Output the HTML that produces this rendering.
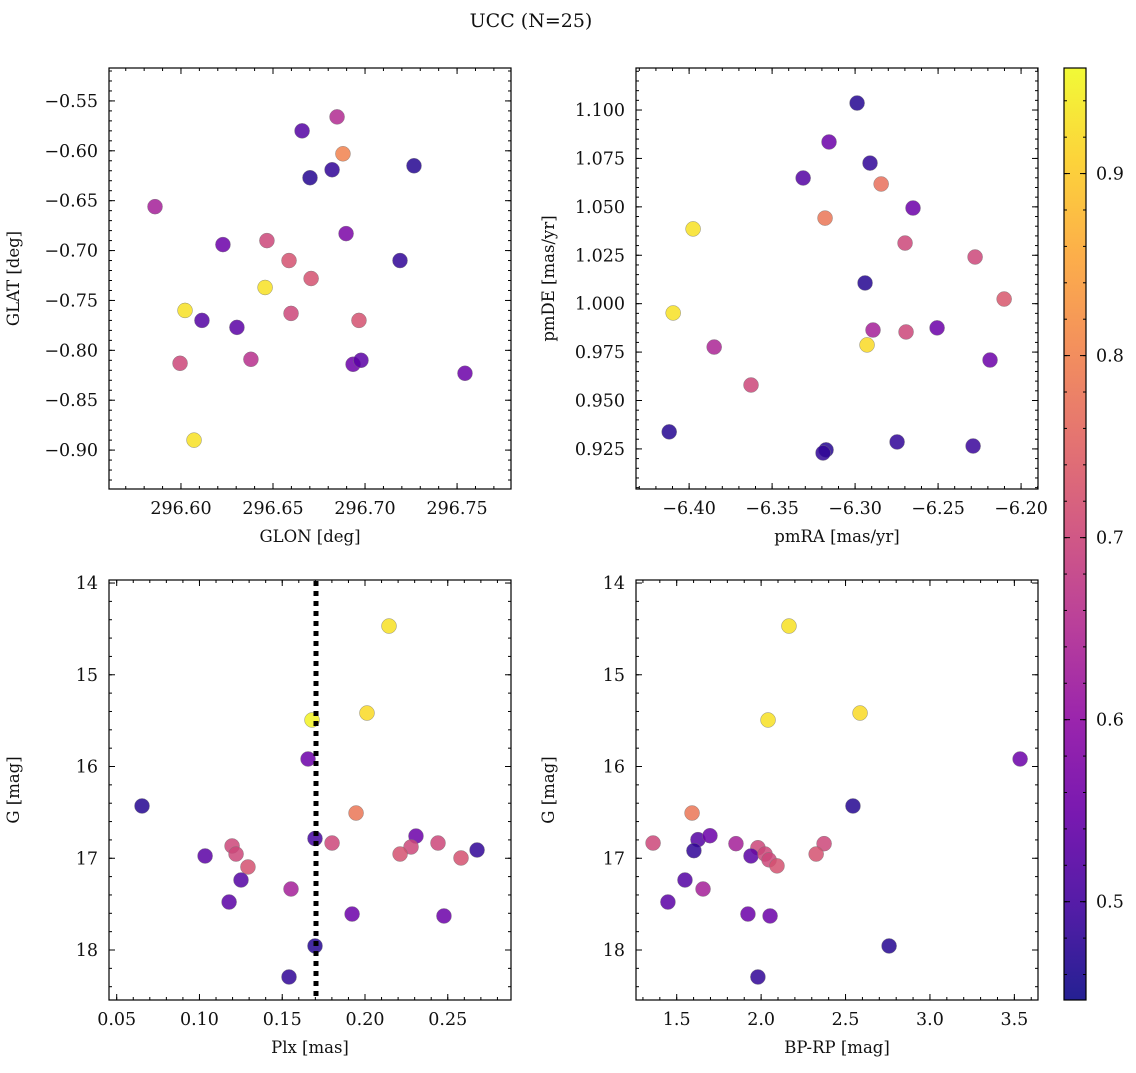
<!DOCTYPE html>
<html><head><meta charset="utf-8"><style>
html,body{margin:0;padding:0;background:#fff}
text{font-family:"DejaVu Serif","Liberation Serif",serif;fill:#111}
</style></head><body>
<svg id="fig" width="1136" height="1068" xmlns="http://www.w3.org/2000/svg">
<text x="531" y="27" font-size="19" text-anchor="middle">UCC (N=25)</text>
</svg>
<script>
// ---- data ----
const glon=[296.6658,296.6848,296.6880,296.6701,296.6821,296.7266,296.5859,296.6228,296.6467,296.6587,296.6897,296.6022,296.6114,296.6304,296.6457,296.6707,296.6598,296.6967,296.7190,296.6380,296.5995,296.6935,296.6978,296.7543,296.6071];
const glat=[-0.580,-0.566,-0.603,-0.627,-0.619,-0.615,-0.656,-0.694,-0.690,-0.710,-0.683,-0.760,-0.770,-0.777,-0.737,-0.728,-0.763,-0.770,-0.710,-0.809,-0.813,-0.814,-0.810,-0.823,-0.890];
const c1=[0.52,0.65,0.80,0.47,0.48,0.47,0.63,0.55,0.70,0.72,0.57,0.93,0.52,0.53,0.93,0.72,0.70,0.72,0.48,0.66,0.70,0.55,0.53,0.55,0.93];
const pmra=[-6.2988,-6.3157,-6.3313,-6.2910,-6.2843,-6.3181,-6.2651,-6.3976,-6.2699,-6.2277,-6.2940,-6.2102,-6.4096,-6.2506,-6.2892,-6.2693,-6.2928,-6.2187,-6.3849,-6.3627,-6.4120,-6.3175,-6.3193,-6.2747,-6.2289];
const pmde=[1.1036,1.0835,1.0649,1.0726,1.0618,1.0442,1.0494,1.0386,1.0313,1.0241,1.0107,1.0024,0.9952,0.9875,0.9864,0.9854,0.9787,0.9709,0.9776,0.9580,0.9338,0.9245,0.9229,0.9286,0.9265];
const c2=[0.47,0.55,0.52,0.48,0.77,0.78,0.55,0.93,0.70,0.70,0.47,0.73,0.93,0.55,0.63,0.70,0.92,0.55,0.64,0.70,0.47,0.47,0.48,0.48,0.49];
const plx=[0.2145,0.1680,0.2012,0.1656,0.0653,0.1034,0.1197,0.1221,0.1293,0.1251,0.1179,0.1553,0.1946,0.1698,0.1801,0.2308,0.2278,0.2212,0.2441,0.2580,0.2677,0.1922,0.2477,0.1698,0.1541];
const gmag3=[14.469,15.493,15.417,15.918,16.430,16.975,16.866,16.954,17.095,17.237,17.477,17.335,16.507,16.785,16.834,16.758,16.877,16.954,16.834,16.997,16.910,17.608,17.629,17.956,18.294];
const c3=[0.93,0.95,0.92,0.55,0.47,0.53,0.70,0.70,0.72,0.52,0.53,0.63,0.78,0.50,0.70,0.55,0.70,0.72,0.70,0.72,0.48,0.55,0.55,0.47,0.48];
const plxCut=0.1704;
const bprp=[2.165,2.041,2.586,3.534,2.544,1.591,1.360,1.626,1.602,1.697,1.851,1.981,1.940,2.023,2.047,2.094,2.373,2.326,1.549,1.656,1.448,1.922,2.053,2.758,1.981];
const gmag4=[14.469,15.493,15.417,15.918,16.430,16.507,16.834,16.797,16.917,16.754,16.841,16.885,16.975,16.954,17.017,17.083,16.841,16.954,17.237,17.335,17.477,17.608,17.629,17.956,18.294];
const c4=[0.93,0.93,0.92,0.55,0.47,0.78,0.70,0.52,0.48,0.55,0.63,0.70,0.53,0.70,0.70,0.72,0.70,0.72,0.52,0.63,0.53,0.55,0.55,0.47,0.48];
const cbTicks=[0.5,0.6,0.7,0.8,0.9];
const vmin=0.446,vmax=0.958;

const NS="http://www.w3.org/2000/svg";
const svg=document.getElementById('fig');
function mk(tag,at,parent){const e=document.createElementNS(NS,tag);for(const k in at)e.setAttribute(k,at[k]);(parent||svg).appendChild(e);return e;}
const stops=["#0d0887","#41049d","#6a00a8","#8f0da4","#b12a90","#cc4778","#e16462","#f2844b","#fca636","#fcce25","#f0f921"];
function hex(h){return [1,3,5].map(i=>parseInt(h.substr(i,2),16));}
function plasma(t){t=Math.max(0,Math.min(1,t));const f=t*10,i=Math.min(9,Math.floor(f)),r=f-i;const a=hex(stops[i]),b=hex(stops[i+1]);return 'rgb('+a.map((v,k)=>Math.round(v+(b[k]-v)*r)).join(',')+')';}
function cmap(v){return plasma((v-vmin)/(vmax-vmin));}

function panel(name,box,xr,yr,xt,yt,xminor,yminor,xfmt,yfmt,xlabel,ylabel,xs,ys,cs,invertY){
  const [L,T,R,B]=box;
  const X=v=>L+(v-xr[0])/(xr[1]-xr[0])*(R-L);
  const Y=invertY?(v=>T+(v-yr[0])/(yr[1]-yr[0])*(B-T)):(v=>B-(v-yr[0])/(yr[1]-yr[0])*(B-T));
  const g=mk('g',{});
  
  
  for(let i=0;i<xs.length;i++){
    const p=mk('circle',{cx:X(xs[i]),cy:Y(ys[i]),r:7.5,fill:cmap(cs[i]),'fill-opacity':0.85,stroke:'#777','stroke-width':0.4},g);
    
    
  }
  const ax=mk('g',{},g);
  
  
  mk('rect',{x:L,y:T,width:R-L,height:B-T,fill:'none',stroke:'#000','stroke-width':1.2},ax);
  const eps=1e-9;
  for(let k=Math.ceil(xr[0]/xminor-eps);k*xminor<=xr[1]+eps;k++){const x=X(k*xminor);mk('line',{x1:x,x2:x,y1:B,y2:B-3,stroke:'#000'},ax);mk('line',{x1:x,x2:x,y1:T,y2:T+3,stroke:'#000'},ax);}
  for(let k=Math.ceil(yr[0]/yminor-eps);k*yminor<=yr[1]+eps;k++){const y=Y(k*yminor);mk('line',{x1:L,x2:L+3,y1:y,y2:y,stroke:'#000'},ax);mk('line',{x1:R,x2:R-3,y1:y,y2:y,stroke:'#000'},ax);}
  xt.forEach(v=>{const x=X(v);mk('line',{x1:x,x2:x,y1:B,y2:B-6,stroke:'#000'},ax);mk('line',{x1:x,x2:x,y1:T,y2:T+6,stroke:'#000'},ax);
    const t=mk('text',{x:x,y:B+25,'font-size':17.5,'text-anchor':'middle'},ax);t.textContent=xfmt(v);
    });
  yt.forEach(v=>{const y=Y(v);mk('line',{x1:L,x2:L+6,y1:y,y2:y,stroke:'#000'},ax);mk('line',{x1:R,x2:R-6,y1:y,y2:y,stroke:'#000'},ax);
    const t=mk('text',{x:L-11,y:y+6,'font-size':17.5,'text-anchor':'end'},ax);t.textContent=yfmt(v);
    });
  const xl=mk('text',{x:(L+R)/2,y:B+53,'font-size':16.5,'text-anchor':'middle'},ax);xl.textContent=xlabel;
  
  const yx=L-(L<300?90:82);
  const yl=mk('text',{x:yx,y:(T+B)/2,'font-size':16.5,'text-anchor':'middle',transform:`rotate(-90 ${yx} ${(T+B)/2})`},ax);yl.textContent=ylabel;
  
  return {X,Y,g};
}
const mfmt=(d)=>v=>(v<0?'\u2212':'')+Math.abs(v).toFixed(d);
panel('panel-glon-glat',[109,68,511,489],[296.5609,296.7793],[-0.939,-0.517],[296.60,296.65,296.70,296.75],[-0.55,-0.60,-0.65,-0.70,-0.75,-0.80,-0.85,-0.90],0.01,0.01,mfmt(2),mfmt(2),'GLON [deg]','GLAT [deg]',glon,glat,c1,false);
panel('panel-pm',[636,68,1038,489],[-6.432,-6.1898],[0.9043,1.1217],[-6.40,-6.35,-6.30,-6.25,-6.20],[0.925,0.95,0.975,1.0,1.025,1.05,1.075,1.1],0.01,0.005,mfmt(2),mfmt(3),'pmRA [mas/yr]','pmDE [mas/yr]',pmra,pmde,c2,false);
const p3=panel('panel-plx-g',[109,580,511,1000],[0.04535,0.2882],[13.967,18.545],[0.05,0.10,0.15,0.20,0.25],[14,15,16,17,18],0.01,0.2,mfmt(2),v=>String(v),'Plx [mas]','G [mag]',plx,gmag3,c3,true);
const cut=mk('line',{x1:p3.X(plxCut),x2:p3.X(plxCut),y1:581,y2:999,stroke:'#000','stroke-width':5,'stroke-dasharray':'5 5'});


panel('panel-cmd',[636,580,1038,1000],[1.2589,3.640],[13.967,18.545],[1.5,2.0,2.5,3.0,3.5],[14,15,16,17,18],0.1,0.2,mfmt(1),v=>String(v),'BP-RP [mag]','G [mag]',bprp,gmag4,c4,true);

// colorbar
const cb=mk('g',{});


const defs=mk('defs',{},svg);
const lg=mk('linearGradient',{id:'cbg',x1:0,y1:1,x2:0,y2:0},defs);
stops.forEach((s,i)=>mk('stop',{offset:(i/10),'stop-color':s},lg));
const CT=68,CB=1000,CL=1064,CR=1086;
mk('rect',{x:CL,y:CT,width:CR-CL,height:CB-CT,fill:'url(#cbg)','fill-opacity':0.9,stroke:'#000','stroke-width':1.2},cb);
const CY=v=>CB-(v-vmin)/(vmax-vmin)*(CB-CT);
for(let k=23;k*0.02<=vmax;k++){const y=CY(k*0.02);mk('line',{x1:CR,x2:CR-3,y1:y,y2:y,stroke:'#000'},cb);mk('line',{x1:CL,x2:CL+3,y1:y,y2:y,stroke:'#000'},cb);}
cbTicks.forEach(v=>{const y=CY(v);mk('line',{x1:CR,x2:CR-6,y1:y,y2:y,stroke:'#000'},cb);mk('line',{x1:CL,x2:CL+6,y1:y,y2:y,stroke:'#000'},cb);
  const t=mk('text',{x:CR+10,y:y+6,'font-size':17.5},cb);t.textContent=v.toFixed(1);
  });
</script>
</body></html>
